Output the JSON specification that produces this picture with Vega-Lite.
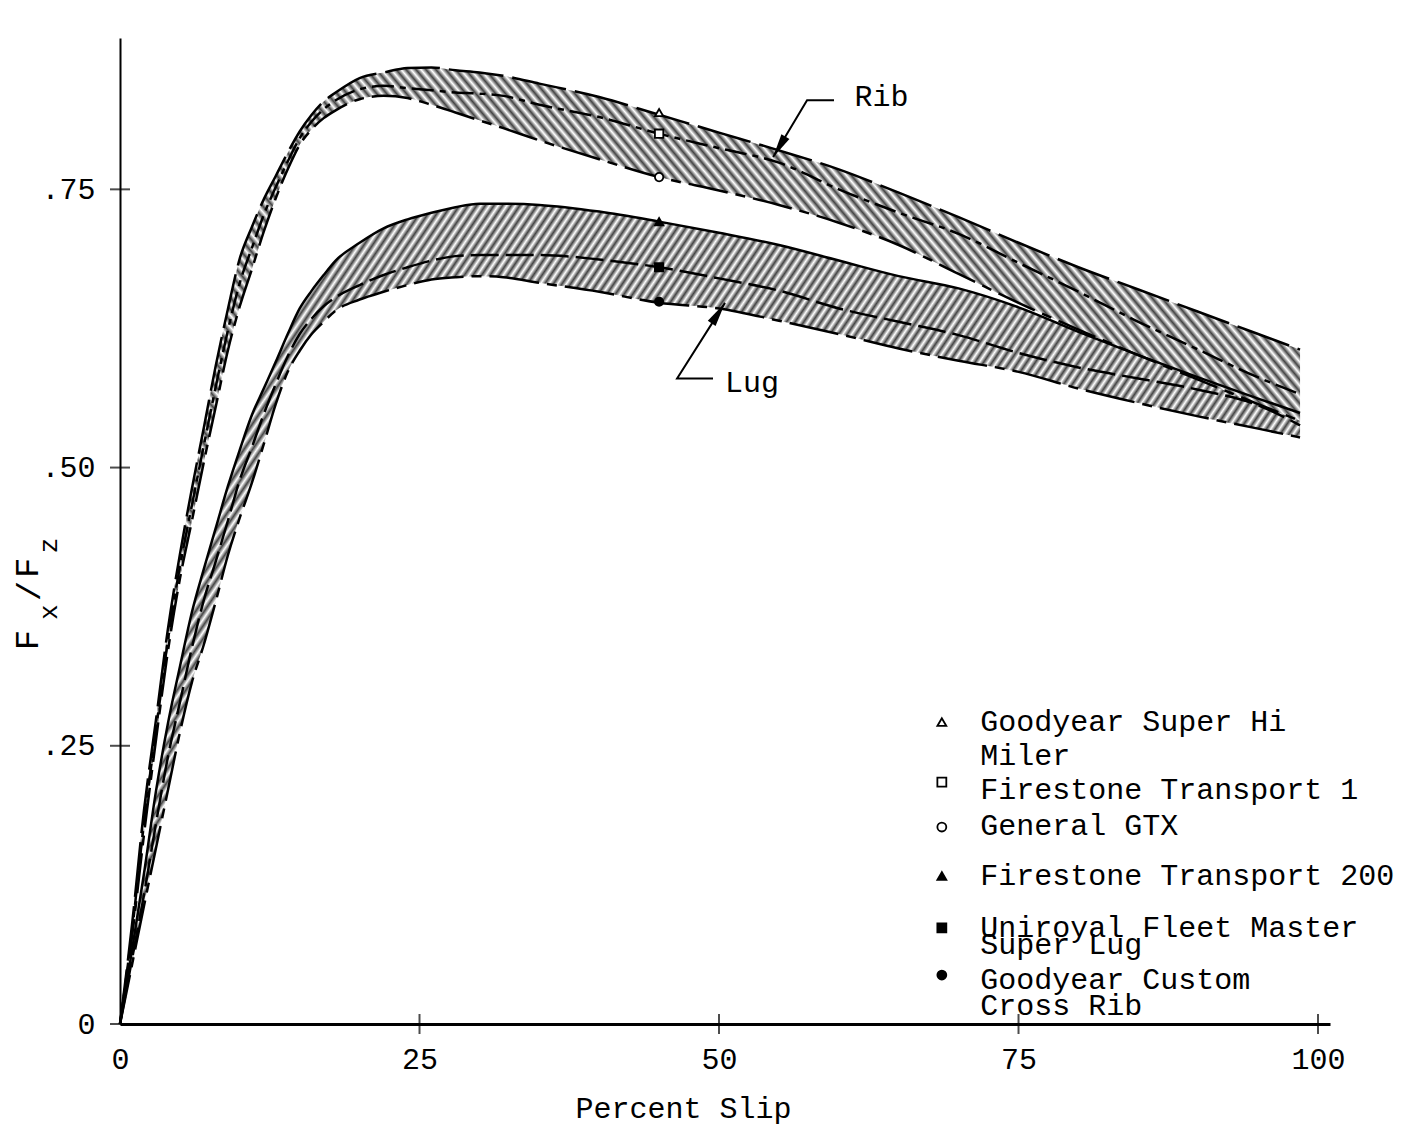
{
"$schema":"https://vega.github.io/schema/vega-lite/v6.json",
"width":1210,"height":986,
"autosize":{"type":"none"},
"padding":{"left":120,"top":38,"right":88,"bottom":104},
"background":"white",
"config":{"view":{"stroke":null},"axis":{"grid":false},"font":"Liberation Mono"},
"datasets":{
"bands":[
{"band":"Rib","x":0,"upper":0,"mid":0,"lower":0},
{"band":"Rib","x":1,"upper":0.089,"mid":0.083,"lower":0.078},
{"band":"Rib","x":2,"upper":0.192,"mid":0.181,"lower":0.170},
{"band":"Rib","x":3,"upper":0.273,"mid":0.264,"lower":0.255},
{"band":"Rib","x":4,"upper":0.355,"mid":0.345,"lower":0.335},
{"band":"Rib","x":5,"upper":0.422,"mid":0.411,"lower":0.400},
{"band":"Rib","x":6,"upper":0.481,"mid":0.466,"lower":0.452},
{"band":"Rib","x":7,"upper":0.536,"mid":0.520,"lower":0.505},
{"band":"Rib","x":8,"upper":0.592,"mid":0.573,"lower":0.555},
{"band":"Rib","x":9,"upper":0.642,"mid":0.623,"lower":0.605},
{"band":"Rib","x":10,"upper":0.688,"mid":0.666,"lower":0.645},
{"band":"Rib","x":11,"upper":0.716,"mid":0.697,"lower":0.678},
{"band":"Rib","x":12,"upper":0.741,"mid":0.727,"lower":0.712},
{"band":"Rib","x":13,"upper":0.762,"mid":0.752,"lower":0.742},
{"band":"Rib","x":14,"upper":0.783,"mid":0.775,"lower":0.768},
{"band":"Rib","x":15,"upper":0.802,"mid":0.796,"lower":0.790},
{"band":"Rib","x":16,"upper":0.817,"mid":0.811,"lower":0.804},
{"band":"Rib","x":17,"upper":0.829,"mid":0.822,"lower":0.814},
{"band":"Rib","x":18,"upper":0.837,"mid":0.830,"lower":0.821},
{"band":"Rib","x":20,"upper":0.850,"mid":0.840,"lower":0.831},
{"band":"Rib","x":22,"upper":0.855,"mid":0.843,"lower":0.834},
{"band":"Rib","x":24,"upper":0.859,"mid":0.841,"lower":0.832},
{"band":"Rib","x":26,"upper":0.8595,"mid":0.839,"lower":0.826},
{"band":"Rib","x":28,"upper":0.857,"mid":0.837,"lower":0.819},
{"band":"Rib","x":30,"upper":0.855,"mid":0.836,"lower":0.812},
{"band":"Rib","x":32,"upper":0.852,"mid":0.834,"lower":0.805},
{"band":"Rib","x":35,"upper":0.845,"mid":0.826,"lower":0.794},
{"band":"Rib","x":40,"upper":0.833,"mid":0.815,"lower":0.777},
{"band":"Rib","x":45,"upper":0.817,"mid":0.800,"lower":0.761},
{"band":"Rib","x":50,"upper":0.801,"mid":0.787,"lower":0.749},
{"band":"Rib","x":55,"upper":0.785,"mid":0.774,"lower":0.736},
{"band":"Rib","x":60,"upper":0.768,"mid":0.750,"lower":0.720},
{"band":"Rib","x":65,"upper":0.747,"mid":0.729,"lower":0.700},
{"band":"Rib","x":70,"upper":0.725,"mid":0.710,"lower":0.674},
{"band":"Rib","x":75,"upper":0.702,"mid":0.684,"lower":0.648},
{"band":"Rib","x":80,"upper":0.680,"mid":0.658,"lower":0.624},
{"band":"Rib","x":85,"upper":0.660,"mid":0.631,"lower":0.601},
{"band":"Rib","x":90,"upper":0.640,"mid":0.606,"lower":0.579},
{"band":"Rib","x":95,"upper":0.620,"mid":0.581,"lower":0.557},
{"band":"Rib","x":98.5,"upper":0.606,"mid":0.566,"lower":0.542},
{"band":"Lug","x":0,"upper":0,"mid":0,"lower":0},
{"band":"Lug","x":1,"upper":0.066,"mid":0.058,"lower":0.053},
{"band":"Lug","x":2,"upper":0.135,"mid":0.116,"lower":0.106},
{"band":"Lug","x":3,"upper":0.209,"mid":0.180,"lower":0.158},
{"band":"Lug","x":4,"upper":0.270,"mid":0.240,"lower":0.210},
{"band":"Lug","x":5,"upper":0.321,"mid":0.289,"lower":0.262},
{"band":"Lug","x":6,"upper":0.370,"mid":0.338,"lower":0.307},
{"band":"Lug","x":7,"upper":0.409,"mid":0.381,"lower":0.341},
{"band":"Lug","x":8,"upper":0.446,"mid":0.416,"lower":0.380},
{"band":"Lug","x":9,"upper":0.483,"mid":0.452,"lower":0.421},
{"band":"Lug","x":10,"upper":0.516,"mid":0.489,"lower":0.455},
{"band":"Lug","x":11,"upper":0.547,"mid":0.518,"lower":0.486},
{"band":"Lug","x":12,"upper":0.571,"mid":0.548,"lower":0.521},
{"band":"Lug","x":13,"upper":0.595,"mid":0.575,"lower":0.557},
{"band":"Lug","x":14,"upper":0.620,"mid":0.600,"lower":0.586},
{"band":"Lug","x":15,"upper":0.643,"mid":0.620,"lower":0.605},
{"band":"Lug","x":16,"upper":0.659,"mid":0.634,"lower":0.620},
{"band":"Lug","x":17,"upper":0.673,"mid":0.645,"lower":0.631},
{"band":"Lug","x":18,"upper":0.686,"mid":0.653,"lower":0.641},
{"band":"Lug","x":20,"upper":0.702,"mid":0.664,"lower":0.651},
{"band":"Lug","x":22,"upper":0.715,"mid":0.673,"lower":0.658},
{"band":"Lug","x":24,"upper":0.723,"mid":0.680,"lower":0.664},
{"band":"Lug","x":26,"upper":0.729,"mid":0.686,"lower":0.669},
{"band":"Lug","x":28,"upper":0.734,"mid":0.690,"lower":0.671},
{"band":"Lug","x":30,"upper":0.737,"mid":0.691,"lower":0.672},
{"band":"Lug","x":32,"upper":0.737,"mid":0.691,"lower":0.671},
{"band":"Lug","x":35,"upper":0.736,"mid":0.691,"lower":0.666},
{"band":"Lug","x":40,"upper":0.730,"mid":0.687,"lower":0.658},
{"band":"Lug","x":45,"upper":0.721,"mid":0.680,"lower":0.648},
{"band":"Lug","x":50,"upper":0.711,"mid":0.670,"lower":0.643},
{"band":"Lug","x":55,"upper":0.700,"mid":0.659,"lower":0.632},
{"band":"Lug","x":60,"upper":0.686,"mid":0.643,"lower":0.620},
{"band":"Lug","x":65,"upper":0.672,"mid":0.631,"lower":0.607},
{"band":"Lug","x":70,"upper":0.661,"mid":0.619,"lower":0.596},
{"band":"Lug","x":75,"upper":0.644,"mid":0.603,"lower":0.586},
{"band":"Lug","x":80,"upper":0.622,"mid":0.590,"lower":0.571},
{"band":"Lug","x":85,"upper":0.601,"mid":0.580,"lower":0.558},
{"band":"Lug","x":90,"upper":0.581,"mid":0.570,"lower":0.546},
{"band":"Lug","x":95,"upper":0.562,"mid":0.556,"lower":0.535},
{"band":"Lug","x":98.5,"upper":0.549,"mid":0.538,"lower":0.527}
],
"tires":[
{"tire":"Goodyear Super Hi Miler","slip":45,"ratio":0.819,"key":0.2713},
{"tire":"Firestone Transport 1","slip":45,"ratio":0.800,"key":0.2174},
{"tire":"General GTX","slip":45,"ratio":0.761,"key":0.1770},
{"tire":"Firestone Transport 200","slip":45,"ratio":0.721,"key":0.1330},
{"tire":"Uniroyal Fleet Master Super Lug","slip":45,"ratio":0.680,"key":0.0863},
{"tire":"Goodyear Custom Cross Rib","slip":45,"ratio":0.649,"key":0.0440}
],
"notes":[
{"text":"Rib","x":61.3,"y":0.833},
{"text":"Lug","x":50.5,"y":0.576},
{"text":"Goodyear Super Hi","x":71.8,"y":0.2713},
{"text":"Miler","x":71.8,"y":0.2408},
{"text":"Firestone Transport 1","x":71.8,"y":0.2102},
{"text":"General GTX","x":71.8,"y":0.1779},
{"text":"Firestone Transport 200","x":71.8,"y":0.1330},
{"text":"Uniroyal Fleet Master","x":71.8,"y":0.0863},
{"text":"Super Lug","x":71.8,"y":0.0710},
{"text":"Goodyear Custom","x":71.8,"y":0.0395},
{"text":"Cross Rib","x":71.8,"y":0.0162}
],
"leaders":[
{"id":"Rib","o":0,"x":59.6,"y":0.830},
{"id":"Rib","o":1,"x":57.35,"y":0.830},
{"id":"Rib","o":2,"x":54.52,"y":0.779},
{"id":"Lug","o":0,"x":49.5,"y":0.580},
{"id":"Lug","o":1,"x":46.5,"y":0.580},
{"id":"Lug","o":2,"x":50.5,"y":0.648}
],
"heads":[
{"id":"Rib","x":55.02,"y":0.788},
{"id":"Lug","x":49.95,"y":0.6388}
],
"ytitleMain":[
{"t":"F","x":-7.7,"y":0.345},
{"t":"/","x":-7.5,"y":0.389},
{"t":"F","x":-7.7,"y":0.410}
],
"ytitleSub":[
{"t":"x","x":-5.95,"y":0.370},
{"t":"z","x":-5.95,"y":0.430}
],
"yticks":[{"v":0},{"v":0.25},{"v":0.5},{"v":0.75}],
"xticks":[{"v":25},{"v":50},{"v":75},{"v":100}]
},
"layer":[
{"data":{"name":"bands"},"transform":[{"filter":"datum.band == 'Lug'"}],
"mark":{"type":"area","interpolate":"monotone","color":{"gradient":"linear","x1":0,"y1":0,"x2":1.2,"y2":0.56,"stops":[
{"offset":0.00,"color":"#fff"},{"offset":0.0025,"color":"#444"},{"offset":0.005,"color":"#fff"},{"offset":0.0075,"color":"#444"},
{"offset":0.01,"color":"#fff"},{"offset":0.0125,"color":"#444"},{"offset":0.015,"color":"#fff"},{"offset":0.0175,"color":"#444"},
{"offset":0.02,"color":"#fff"},{"offset":0.0225,"color":"#444"},{"offset":0.025,"color":"#fff"},{"offset":0.0275,"color":"#444"},
{"offset":0.03,"color":"#fff"},{"offset":0.0325,"color":"#444"},{"offset":0.035,"color":"#fff"},{"offset":0.0375,"color":"#444"},
{"offset":0.04,"color":"#fff"},{"offset":0.0425,"color":"#444"},{"offset":0.045,"color":"#fff"},{"offset":0.0475,"color":"#444"},
{"offset":0.05,"color":"#fff"},{"offset":0.0525,"color":"#444"},{"offset":0.055,"color":"#fff"},{"offset":0.0575,"color":"#444"},
{"offset":0.06,"color":"#fff"},{"offset":0.0625,"color":"#444"},{"offset":0.065,"color":"#fff"},{"offset":0.0675,"color":"#444"},
{"offset":0.07,"color":"#fff"},{"offset":0.0725,"color":"#444"},{"offset":0.075,"color":"#fff"},{"offset":0.0775,"color":"#444"},
{"offset":0.08,"color":"#fff"},{"offset":0.0825,"color":"#444"},{"offset":0.085,"color":"#fff"},{"offset":0.0875,"color":"#444"},
{"offset":0.09,"color":"#fff"},{"offset":0.0925,"color":"#444"},{"offset":0.095,"color":"#fff"},{"offset":0.0975,"color":"#444"},
{"offset":0.10,"color":"#fff"},{"offset":0.1025,"color":"#444"},{"offset":0.105,"color":"#fff"},{"offset":0.1075,"color":"#444"},
{"offset":0.11,"color":"#fff"},{"offset":0.1125,"color":"#444"},{"offset":0.115,"color":"#fff"},{"offset":0.1175,"color":"#444"},
{"offset":0.12,"color":"#fff"},{"offset":0.1225,"color":"#444"},{"offset":0.125,"color":"#fff"},{"offset":0.1275,"color":"#444"},
{"offset":0.13,"color":"#fff"},{"offset":0.1325,"color":"#444"},{"offset":0.135,"color":"#fff"},{"offset":0.1375,"color":"#444"},
{"offset":0.14,"color":"#fff"},{"offset":0.1425,"color":"#444"},{"offset":0.145,"color":"#fff"},{"offset":0.1475,"color":"#444"},
{"offset":0.15,"color":"#fff"},{"offset":0.1525,"color":"#444"},{"offset":0.155,"color":"#fff"},{"offset":0.1575,"color":"#444"},
{"offset":0.16,"color":"#fff"},{"offset":0.1625,"color":"#444"},{"offset":0.165,"color":"#fff"},{"offset":0.1675,"color":"#444"},
{"offset":0.17,"color":"#fff"},{"offset":0.1725,"color":"#444"},{"offset":0.175,"color":"#fff"},{"offset":0.1775,"color":"#444"},
{"offset":0.18,"color":"#fff"},{"offset":0.1825,"color":"#444"},{"offset":0.185,"color":"#fff"},{"offset":0.1875,"color":"#444"},
{"offset":0.19,"color":"#fff"},{"offset":0.1925,"color":"#444"},{"offset":0.195,"color":"#fff"},{"offset":0.1975,"color":"#444"},
{"offset":0.20,"color":"#fff"},{"offset":0.2025,"color":"#444"},{"offset":0.205,"color":"#fff"},{"offset":0.2075,"color":"#444"},
{"offset":0.21,"color":"#fff"},{"offset":0.2125,"color":"#444"},{"offset":0.215,"color":"#fff"},{"offset":0.2175,"color":"#444"},
{"offset":0.22,"color":"#fff"},{"offset":0.2225,"color":"#444"},{"offset":0.225,"color":"#fff"},{"offset":0.2275,"color":"#444"},
{"offset":0.23,"color":"#fff"},{"offset":0.2325,"color":"#444"},{"offset":0.235,"color":"#fff"},{"offset":0.2375,"color":"#444"},
{"offset":0.24,"color":"#fff"},{"offset":0.2425,"color":"#444"},{"offset":0.245,"color":"#fff"},{"offset":0.2475,"color":"#444"},
{"offset":0.25,"color":"#fff"},{"offset":0.2525,"color":"#444"},{"offset":0.255,"color":"#fff"},{"offset":0.2575,"color":"#444"},
{"offset":0.26,"color":"#fff"},{"offset":0.2625,"color":"#444"},{"offset":0.265,"color":"#fff"},{"offset":0.2675,"color":"#444"},
{"offset":0.27,"color":"#fff"},{"offset":0.2725,"color":"#444"},{"offset":0.275,"color":"#fff"},{"offset":0.2775,"color":"#444"},
{"offset":0.28,"color":"#fff"},{"offset":0.2825,"color":"#444"},{"offset":0.285,"color":"#fff"},{"offset":0.2875,"color":"#444"},
{"offset":0.29,"color":"#fff"},{"offset":0.2925,"color":"#444"},{"offset":0.295,"color":"#fff"},{"offset":0.2975,"color":"#444"},
{"offset":0.30,"color":"#fff"},{"offset":0.3025,"color":"#444"},{"offset":0.305,"color":"#fff"},{"offset":0.3075,"color":"#444"},
{"offset":0.31,"color":"#fff"},{"offset":0.3125,"color":"#444"},{"offset":0.315,"color":"#fff"},{"offset":0.3175,"color":"#444"},
{"offset":0.32,"color":"#fff"},{"offset":0.3225,"color":"#444"},{"offset":0.325,"color":"#fff"},{"offset":0.3275,"color":"#444"},
{"offset":0.33,"color":"#fff"},{"offset":0.3325,"color":"#444"},{"offset":0.335,"color":"#fff"},{"offset":0.3375,"color":"#444"},
{"offset":0.34,"color":"#fff"},{"offset":0.3425,"color":"#444"},{"offset":0.345,"color":"#fff"},{"offset":0.3475,"color":"#444"},
{"offset":0.35,"color":"#fff"},{"offset":0.3525,"color":"#444"},{"offset":0.355,"color":"#fff"},{"offset":0.3575,"color":"#444"},
{"offset":0.36,"color":"#fff"},{"offset":0.3625,"color":"#444"},{"offset":0.365,"color":"#fff"},{"offset":0.3675,"color":"#444"},
{"offset":0.37,"color":"#fff"},{"offset":0.3725,"color":"#444"},{"offset":0.375,"color":"#fff"},{"offset":0.3775,"color":"#444"},
{"offset":0.38,"color":"#fff"},{"offset":0.3825,"color":"#444"},{"offset":0.385,"color":"#fff"},{"offset":0.3875,"color":"#444"},
{"offset":0.39,"color":"#fff"},{"offset":0.3925,"color":"#444"},{"offset":0.395,"color":"#fff"},{"offset":0.3975,"color":"#444"},
{"offset":0.40,"color":"#fff"},{"offset":0.4025,"color":"#444"},{"offset":0.405,"color":"#fff"},{"offset":0.4075,"color":"#444"},
{"offset":0.41,"color":"#fff"},{"offset":0.4125,"color":"#444"},{"offset":0.415,"color":"#fff"},{"offset":0.4175,"color":"#444"},
{"offset":0.42,"color":"#fff"},{"offset":0.4225,"color":"#444"},{"offset":0.425,"color":"#fff"},{"offset":0.4275,"color":"#444"},
{"offset":0.43,"color":"#fff"},{"offset":0.4325,"color":"#444"},{"offset":0.435,"color":"#fff"},{"offset":0.4375,"color":"#444"},
{"offset":0.44,"color":"#fff"},{"offset":0.4425,"color":"#444"},{"offset":0.445,"color":"#fff"},{"offset":0.4475,"color":"#444"},
{"offset":0.45,"color":"#fff"},{"offset":0.4525,"color":"#444"},{"offset":0.455,"color":"#fff"},{"offset":0.4575,"color":"#444"},
{"offset":0.46,"color":"#fff"},{"offset":0.4625,"color":"#444"},{"offset":0.465,"color":"#fff"},{"offset":0.4675,"color":"#444"},
{"offset":0.47,"color":"#fff"},{"offset":0.4725,"color":"#444"},{"offset":0.475,"color":"#fff"},{"offset":0.4775,"color":"#444"},
{"offset":0.48,"color":"#fff"},{"offset":0.4825,"color":"#444"},{"offset":0.485,"color":"#fff"},{"offset":0.4875,"color":"#444"},
{"offset":0.49,"color":"#fff"},{"offset":0.4925,"color":"#444"},{"offset":0.495,"color":"#fff"},{"offset":0.4975,"color":"#444"},
{"offset":0.50,"color":"#fff"},{"offset":0.5025,"color":"#444"},{"offset":0.505,"color":"#fff"},{"offset":0.5075,"color":"#444"},
{"offset":0.51,"color":"#fff"},{"offset":0.5125,"color":"#444"},{"offset":0.515,"color":"#fff"},{"offset":0.5175,"color":"#444"},
{"offset":0.52,"color":"#fff"},{"offset":0.5225,"color":"#444"},{"offset":0.525,"color":"#fff"},{"offset":0.5275,"color":"#444"},
{"offset":0.53,"color":"#fff"},{"offset":0.5325,"color":"#444"},{"offset":0.535,"color":"#fff"},{"offset":0.5375,"color":"#444"},
{"offset":0.54,"color":"#fff"},{"offset":0.5425,"color":"#444"},{"offset":0.545,"color":"#fff"},{"offset":0.5475,"color":"#444"},
{"offset":0.55,"color":"#fff"},{"offset":0.5525,"color":"#444"},{"offset":0.555,"color":"#fff"},{"offset":0.5575,"color":"#444"},
{"offset":0.56,"color":"#fff"},{"offset":0.5625,"color":"#444"},{"offset":0.565,"color":"#fff"},{"offset":0.5675,"color":"#444"},
{"offset":0.57,"color":"#fff"},{"offset":0.5725,"color":"#444"},{"offset":0.575,"color":"#fff"},{"offset":0.5775,"color":"#444"},
{"offset":0.58,"color":"#fff"},{"offset":0.5825,"color":"#444"},{"offset":0.585,"color":"#fff"},{"offset":0.5875,"color":"#444"},
{"offset":0.59,"color":"#fff"},{"offset":0.5925,"color":"#444"},{"offset":0.595,"color":"#fff"},{"offset":0.5975,"color":"#444"},
{"offset":0.60,"color":"#fff"},{"offset":0.6025,"color":"#444"},{"offset":0.605,"color":"#fff"},{"offset":0.6075,"color":"#444"},
{"offset":0.61,"color":"#fff"},{"offset":0.6125,"color":"#444"},{"offset":0.615,"color":"#fff"},{"offset":0.6175,"color":"#444"},
{"offset":0.62,"color":"#fff"},{"offset":0.6225,"color":"#444"},{"offset":0.625,"color":"#fff"},{"offset":0.6275,"color":"#444"},
{"offset":0.63,"color":"#fff"},{"offset":0.6325,"color":"#444"},{"offset":0.635,"color":"#fff"},{"offset":0.6375,"color":"#444"},
{"offset":0.64,"color":"#fff"},{"offset":0.6425,"color":"#444"},{"offset":0.645,"color":"#fff"},{"offset":0.6475,"color":"#444"},
{"offset":0.65,"color":"#fff"},{"offset":0.6525,"color":"#444"},{"offset":0.655,"color":"#fff"},{"offset":0.6575,"color":"#444"},
{"offset":0.66,"color":"#fff"},{"offset":0.6625,"color":"#444"},{"offset":0.665,"color":"#fff"},{"offset":0.6675,"color":"#444"},
{"offset":0.67,"color":"#fff"},{"offset":0.6725,"color":"#444"},{"offset":0.675,"color":"#fff"},{"offset":0.6775,"color":"#444"},
{"offset":0.68,"color":"#fff"},{"offset":0.6825,"color":"#444"},{"offset":0.685,"color":"#fff"},{"offset":0.6875,"color":"#444"},
{"offset":0.69,"color":"#fff"},{"offset":0.6925,"color":"#444"},{"offset":0.695,"color":"#fff"},{"offset":0.6975,"color":"#444"},
{"offset":0.70,"color":"#fff"},{"offset":0.7025,"color":"#444"},{"offset":0.705,"color":"#fff"},{"offset":0.7075,"color":"#444"},
{"offset":0.71,"color":"#fff"},{"offset":0.7125,"color":"#444"},{"offset":0.715,"color":"#fff"},{"offset":0.7175,"color":"#444"},
{"offset":0.72,"color":"#fff"},{"offset":0.7225,"color":"#444"},{"offset":0.725,"color":"#fff"},{"offset":0.7275,"color":"#444"},
{"offset":0.73,"color":"#fff"},{"offset":0.7325,"color":"#444"},{"offset":0.735,"color":"#fff"},{"offset":0.7375,"color":"#444"},
{"offset":0.74,"color":"#fff"},{"offset":0.7425,"color":"#444"},{"offset":0.745,"color":"#fff"},{"offset":0.7475,"color":"#444"},
{"offset":0.75,"color":"#fff"},{"offset":0.7525,"color":"#444"},{"offset":0.755,"color":"#fff"},{"offset":0.7575,"color":"#444"},
{"offset":0.76,"color":"#fff"},{"offset":0.7625,"color":"#444"},{"offset":0.765,"color":"#fff"},{"offset":0.7675,"color":"#444"},
{"offset":0.77,"color":"#fff"},{"offset":0.7725,"color":"#444"},{"offset":0.775,"color":"#fff"},{"offset":0.7775,"color":"#444"},
{"offset":0.78,"color":"#fff"},{"offset":0.7825,"color":"#444"},{"offset":0.785,"color":"#fff"},{"offset":0.7875,"color":"#444"},
{"offset":0.79,"color":"#fff"},{"offset":0.7925,"color":"#444"},{"offset":0.795,"color":"#fff"},{"offset":0.7975,"color":"#444"},
{"offset":0.80,"color":"#fff"},{"offset":0.8025,"color":"#444"},{"offset":0.805,"color":"#fff"},{"offset":0.8075,"color":"#444"},
{"offset":0.81,"color":"#fff"},{"offset":0.8125,"color":"#444"},{"offset":0.815,"color":"#fff"},{"offset":0.8175,"color":"#444"},
{"offset":0.82,"color":"#fff"},{"offset":0.8225,"color":"#444"},{"offset":0.825,"color":"#fff"},{"offset":0.8275,"color":"#444"},
{"offset":0.83,"color":"#fff"},{"offset":0.8325,"color":"#444"},{"offset":0.835,"color":"#fff"},{"offset":0.8375,"color":"#444"},
{"offset":0.84,"color":"#fff"},{"offset":0.8425,"color":"#444"},{"offset":0.845,"color":"#fff"},{"offset":0.8475,"color":"#444"},
{"offset":0.85,"color":"#fff"},{"offset":0.8525,"color":"#444"},{"offset":0.855,"color":"#fff"},{"offset":0.8575,"color":"#444"},
{"offset":0.86,"color":"#fff"},{"offset":0.8625,"color":"#444"},{"offset":0.865,"color":"#fff"},{"offset":0.8675,"color":"#444"},
{"offset":0.87,"color":"#fff"},{"offset":0.8725,"color":"#444"},{"offset":0.875,"color":"#fff"},{"offset":0.8775,"color":"#444"},
{"offset":0.88,"color":"#fff"},{"offset":0.8825,"color":"#444"},{"offset":0.885,"color":"#fff"},{"offset":0.8875,"color":"#444"},
{"offset":0.89,"color":"#fff"},{"offset":0.8925,"color":"#444"},{"offset":0.895,"color":"#fff"},{"offset":0.8975,"color":"#444"},
{"offset":0.90,"color":"#fff"},{"offset":0.9025,"color":"#444"},{"offset":0.905,"color":"#fff"},{"offset":0.9075,"color":"#444"},
{"offset":0.91,"color":"#fff"},{"offset":0.9125,"color":"#444"},{"offset":0.915,"color":"#fff"},{"offset":0.9175,"color":"#444"},
{"offset":0.92,"color":"#fff"},{"offset":0.9225,"color":"#444"},{"offset":0.925,"color":"#fff"},{"offset":0.9275,"color":"#444"},
{"offset":0.93,"color":"#fff"},{"offset":0.9325,"color":"#444"},{"offset":0.935,"color":"#fff"},{"offset":0.9375,"color":"#444"},
{"offset":0.94,"color":"#fff"},{"offset":0.9425,"color":"#444"},{"offset":0.945,"color":"#fff"},{"offset":0.9475,"color":"#444"},
{"offset":0.95,"color":"#fff"},{"offset":0.9525,"color":"#444"},{"offset":0.955,"color":"#fff"},{"offset":0.9575,"color":"#444"},
{"offset":0.96,"color":"#fff"},{"offset":0.9625,"color":"#444"},{"offset":0.965,"color":"#fff"},{"offset":0.9675,"color":"#444"},
{"offset":0.97,"color":"#fff"},{"offset":0.9725,"color":"#444"},{"offset":0.975,"color":"#fff"},{"offset":0.9775,"color":"#444"},
{"offset":0.98,"color":"#fff"},{"offset":0.9825,"color":"#444"},{"offset":0.985,"color":"#fff"},{"offset":0.9875,"color":"#444"},
{"offset":0.99,"color":"#fff"},{"offset":0.9925,"color":"#444"},{"offset":0.995,"color":"#fff"},{"offset":0.9975,"color":"#444"},
{"offset":1,"color":"#fff"}]}},
"encoding":{
"x":{"field":"x","type":"quantitative","scale":{"domain":[0,101],"nice":false},"axis":{"values":[0,25,50,75,100],"ticks":false,"grid":false,"domainColor":"black","domainWidth":3,"labelFont":"Liberation Mono","labelFontSize":30,"labelColor":"black","labelPadding":20,"labelFlush":false,"labelOverlap":false,"title":"Percent Slip","titleFont":"Liberation Mono","titleFontSize":30,"titleFontWeight":"normal","titleColor":"black","titleX":563,"titleY":84,"titleAlign":"center","titleBaseline":"middle","titleAnchor":null}},
"y":{"field":"upper","type":"quantitative","scale":{"domain":[0,0.886],"nice":false,"zero":false},"axis":{"values":[0,0.25,0.5,0.75],"ticks":false,"grid":false,"domainColor":"black","domainWidth":2,"labelExpr":"datum.value == 0 ? '0' : replace(format(datum.value, '.2f'), '0.', '.')","labelFont":"Liberation Mono","labelFontSize":30,"labelColor":"black","labelPadding":25,"title":null}},
"y2":{"field":"lower"}}},
{"data":{"name":"bands"},"transform":[{"filter":"datum.band == 'Rib'"}],
"mark":{"type":"area","interpolate":"monotone","color":{"gradient":"linear","x1":0,"y1":1,"x2":1.15,"y2":0.22,"stops":[
{"offset":0.00,"color":"#fff"},{"offset":0.0025,"color":"#444"},{"offset":0.005,"color":"#fff"},{"offset":0.0075,"color":"#444"},
{"offset":0.01,"color":"#fff"},{"offset":0.0125,"color":"#444"},{"offset":0.015,"color":"#fff"},{"offset":0.0175,"color":"#444"},
{"offset":0.02,"color":"#fff"},{"offset":0.0225,"color":"#444"},{"offset":0.025,"color":"#fff"},{"offset":0.0275,"color":"#444"},
{"offset":0.03,"color":"#fff"},{"offset":0.0325,"color":"#444"},{"offset":0.035,"color":"#fff"},{"offset":0.0375,"color":"#444"},
{"offset":0.04,"color":"#fff"},{"offset":0.0425,"color":"#444"},{"offset":0.045,"color":"#fff"},{"offset":0.0475,"color":"#444"},
{"offset":0.05,"color":"#fff"},{"offset":0.0525,"color":"#444"},{"offset":0.055,"color":"#fff"},{"offset":0.0575,"color":"#444"},
{"offset":0.06,"color":"#fff"},{"offset":0.0625,"color":"#444"},{"offset":0.065,"color":"#fff"},{"offset":0.0675,"color":"#444"},
{"offset":0.07,"color":"#fff"},{"offset":0.0725,"color":"#444"},{"offset":0.075,"color":"#fff"},{"offset":0.0775,"color":"#444"},
{"offset":0.08,"color":"#fff"},{"offset":0.0825,"color":"#444"},{"offset":0.085,"color":"#fff"},{"offset":0.0875,"color":"#444"},
{"offset":0.09,"color":"#fff"},{"offset":0.0925,"color":"#444"},{"offset":0.095,"color":"#fff"},{"offset":0.0975,"color":"#444"},
{"offset":0.10,"color":"#fff"},{"offset":0.1025,"color":"#444"},{"offset":0.105,"color":"#fff"},{"offset":0.1075,"color":"#444"},
{"offset":0.11,"color":"#fff"},{"offset":0.1125,"color":"#444"},{"offset":0.115,"color":"#fff"},{"offset":0.1175,"color":"#444"},
{"offset":0.12,"color":"#fff"},{"offset":0.1225,"color":"#444"},{"offset":0.125,"color":"#fff"},{"offset":0.1275,"color":"#444"},
{"offset":0.13,"color":"#fff"},{"offset":0.1325,"color":"#444"},{"offset":0.135,"color":"#fff"},{"offset":0.1375,"color":"#444"},
{"offset":0.14,"color":"#fff"},{"offset":0.1425,"color":"#444"},{"offset":0.145,"color":"#fff"},{"offset":0.1475,"color":"#444"},
{"offset":0.15,"color":"#fff"},{"offset":0.1525,"color":"#444"},{"offset":0.155,"color":"#fff"},{"offset":0.1575,"color":"#444"},
{"offset":0.16,"color":"#fff"},{"offset":0.1625,"color":"#444"},{"offset":0.165,"color":"#fff"},{"offset":0.1675,"color":"#444"},
{"offset":0.17,"color":"#fff"},{"offset":0.1725,"color":"#444"},{"offset":0.175,"color":"#fff"},{"offset":0.1775,"color":"#444"},
{"offset":0.18,"color":"#fff"},{"offset":0.1825,"color":"#444"},{"offset":0.185,"color":"#fff"},{"offset":0.1875,"color":"#444"},
{"offset":0.19,"color":"#fff"},{"offset":0.1925,"color":"#444"},{"offset":0.195,"color":"#fff"},{"offset":0.1975,"color":"#444"},
{"offset":0.20,"color":"#fff"},{"offset":0.2025,"color":"#444"},{"offset":0.205,"color":"#fff"},{"offset":0.2075,"color":"#444"},
{"offset":0.21,"color":"#fff"},{"offset":0.2125,"color":"#444"},{"offset":0.215,"color":"#fff"},{"offset":0.2175,"color":"#444"},
{"offset":0.22,"color":"#fff"},{"offset":0.2225,"color":"#444"},{"offset":0.225,"color":"#fff"},{"offset":0.2275,"color":"#444"},
{"offset":0.23,"color":"#fff"},{"offset":0.2325,"color":"#444"},{"offset":0.235,"color":"#fff"},{"offset":0.2375,"color":"#444"},
{"offset":0.24,"color":"#fff"},{"offset":0.2425,"color":"#444"},{"offset":0.245,"color":"#fff"},{"offset":0.2475,"color":"#444"},
{"offset":0.25,"color":"#fff"},{"offset":0.2525,"color":"#444"},{"offset":0.255,"color":"#fff"},{"offset":0.2575,"color":"#444"},
{"offset":0.26,"color":"#fff"},{"offset":0.2625,"color":"#444"},{"offset":0.265,"color":"#fff"},{"offset":0.2675,"color":"#444"},
{"offset":0.27,"color":"#fff"},{"offset":0.2725,"color":"#444"},{"offset":0.275,"color":"#fff"},{"offset":0.2775,"color":"#444"},
{"offset":0.28,"color":"#fff"},{"offset":0.2825,"color":"#444"},{"offset":0.285,"color":"#fff"},{"offset":0.2875,"color":"#444"},
{"offset":0.29,"color":"#fff"},{"offset":0.2925,"color":"#444"},{"offset":0.295,"color":"#fff"},{"offset":0.2975,"color":"#444"},
{"offset":0.30,"color":"#fff"},{"offset":0.3025,"color":"#444"},{"offset":0.305,"color":"#fff"},{"offset":0.3075,"color":"#444"},
{"offset":0.31,"color":"#fff"},{"offset":0.3125,"color":"#444"},{"offset":0.315,"color":"#fff"},{"offset":0.3175,"color":"#444"},
{"offset":0.32,"color":"#fff"},{"offset":0.3225,"color":"#444"},{"offset":0.325,"color":"#fff"},{"offset":0.3275,"color":"#444"},
{"offset":0.33,"color":"#fff"},{"offset":0.3325,"color":"#444"},{"offset":0.335,"color":"#fff"},{"offset":0.3375,"color":"#444"},
{"offset":0.34,"color":"#fff"},{"offset":0.3425,"color":"#444"},{"offset":0.345,"color":"#fff"},{"offset":0.3475,"color":"#444"},
{"offset":0.35,"color":"#fff"},{"offset":0.3525,"color":"#444"},{"offset":0.355,"color":"#fff"},{"offset":0.3575,"color":"#444"},
{"offset":0.36,"color":"#fff"},{"offset":0.3625,"color":"#444"},{"offset":0.365,"color":"#fff"},{"offset":0.3675,"color":"#444"},
{"offset":0.37,"color":"#fff"},{"offset":0.3725,"color":"#444"},{"offset":0.375,"color":"#fff"},{"offset":0.3775,"color":"#444"},
{"offset":0.38,"color":"#fff"},{"offset":0.3825,"color":"#444"},{"offset":0.385,"color":"#fff"},{"offset":0.3875,"color":"#444"},
{"offset":0.39,"color":"#fff"},{"offset":0.3925,"color":"#444"},{"offset":0.395,"color":"#fff"},{"offset":0.3975,"color":"#444"},
{"offset":0.40,"color":"#fff"},{"offset":0.4025,"color":"#444"},{"offset":0.405,"color":"#fff"},{"offset":0.4075,"color":"#444"},
{"offset":0.41,"color":"#fff"},{"offset":0.4125,"color":"#444"},{"offset":0.415,"color":"#fff"},{"offset":0.4175,"color":"#444"},
{"offset":0.42,"color":"#fff"},{"offset":0.4225,"color":"#444"},{"offset":0.425,"color":"#fff"},{"offset":0.4275,"color":"#444"},
{"offset":0.43,"color":"#fff"},{"offset":0.4325,"color":"#444"},{"offset":0.435,"color":"#fff"},{"offset":0.4375,"color":"#444"},
{"offset":0.44,"color":"#fff"},{"offset":0.4425,"color":"#444"},{"offset":0.445,"color":"#fff"},{"offset":0.4475,"color":"#444"},
{"offset":0.45,"color":"#fff"},{"offset":0.4525,"color":"#444"},{"offset":0.455,"color":"#fff"},{"offset":0.4575,"color":"#444"},
{"offset":0.46,"color":"#fff"},{"offset":0.4625,"color":"#444"},{"offset":0.465,"color":"#fff"},{"offset":0.4675,"color":"#444"},
{"offset":0.47,"color":"#fff"},{"offset":0.4725,"color":"#444"},{"offset":0.475,"color":"#fff"},{"offset":0.4775,"color":"#444"},
{"offset":0.48,"color":"#fff"},{"offset":0.4825,"color":"#444"},{"offset":0.485,"color":"#fff"},{"offset":0.4875,"color":"#444"},
{"offset":0.49,"color":"#fff"},{"offset":0.4925,"color":"#444"},{"offset":0.495,"color":"#fff"},{"offset":0.4975,"color":"#444"},
{"offset":0.50,"color":"#fff"},{"offset":0.5025,"color":"#444"},{"offset":0.505,"color":"#fff"},{"offset":0.5075,"color":"#444"},
{"offset":0.51,"color":"#fff"},{"offset":0.5125,"color":"#444"},{"offset":0.515,"color":"#fff"},{"offset":0.5175,"color":"#444"},
{"offset":0.52,"color":"#fff"},{"offset":0.5225,"color":"#444"},{"offset":0.525,"color":"#fff"},{"offset":0.5275,"color":"#444"},
{"offset":0.53,"color":"#fff"},{"offset":0.5325,"color":"#444"},{"offset":0.535,"color":"#fff"},{"offset":0.5375,"color":"#444"},
{"offset":0.54,"color":"#fff"},{"offset":0.5425,"color":"#444"},{"offset":0.545,"color":"#fff"},{"offset":0.5475,"color":"#444"},
{"offset":0.55,"color":"#fff"},{"offset":0.5525,"color":"#444"},{"offset":0.555,"color":"#fff"},{"offset":0.5575,"color":"#444"},
{"offset":0.56,"color":"#fff"},{"offset":0.5625,"color":"#444"},{"offset":0.565,"color":"#fff"},{"offset":0.5675,"color":"#444"},
{"offset":0.57,"color":"#fff"},{"offset":0.5725,"color":"#444"},{"offset":0.575,"color":"#fff"},{"offset":0.5775,"color":"#444"},
{"offset":0.58,"color":"#fff"},{"offset":0.5825,"color":"#444"},{"offset":0.585,"color":"#fff"},{"offset":0.5875,"color":"#444"},
{"offset":0.59,"color":"#fff"},{"offset":0.5925,"color":"#444"},{"offset":0.595,"color":"#fff"},{"offset":0.5975,"color":"#444"},
{"offset":0.60,"color":"#fff"},{"offset":0.6025,"color":"#444"},{"offset":0.605,"color":"#fff"},{"offset":0.6075,"color":"#444"},
{"offset":0.61,"color":"#fff"},{"offset":0.6125,"color":"#444"},{"offset":0.615,"color":"#fff"},{"offset":0.6175,"color":"#444"},
{"offset":0.62,"color":"#fff"},{"offset":0.6225,"color":"#444"},{"offset":0.625,"color":"#fff"},{"offset":0.6275,"color":"#444"},
{"offset":0.63,"color":"#fff"},{"offset":0.6325,"color":"#444"},{"offset":0.635,"color":"#fff"},{"offset":0.6375,"color":"#444"},
{"offset":0.64,"color":"#fff"},{"offset":0.6425,"color":"#444"},{"offset":0.645,"color":"#fff"},{"offset":0.6475,"color":"#444"},
{"offset":0.65,"color":"#fff"},{"offset":0.6525,"color":"#444"},{"offset":0.655,"color":"#fff"},{"offset":0.6575,"color":"#444"},
{"offset":0.66,"color":"#fff"},{"offset":0.6625,"color":"#444"},{"offset":0.665,"color":"#fff"},{"offset":0.6675,"color":"#444"},
{"offset":0.67,"color":"#fff"},{"offset":0.6725,"color":"#444"},{"offset":0.675,"color":"#fff"},{"offset":0.6775,"color":"#444"},
{"offset":0.68,"color":"#fff"},{"offset":0.6825,"color":"#444"},{"offset":0.685,"color":"#fff"},{"offset":0.6875,"color":"#444"},
{"offset":0.69,"color":"#fff"},{"offset":0.6925,"color":"#444"},{"offset":0.695,"color":"#fff"},{"offset":0.6975,"color":"#444"},
{"offset":0.70,"color":"#fff"},{"offset":0.7025,"color":"#444"},{"offset":0.705,"color":"#fff"},{"offset":0.7075,"color":"#444"},
{"offset":0.71,"color":"#fff"},{"offset":0.7125,"color":"#444"},{"offset":0.715,"color":"#fff"},{"offset":0.7175,"color":"#444"},
{"offset":0.72,"color":"#fff"},{"offset":0.7225,"color":"#444"},{"offset":0.725,"color":"#fff"},{"offset":0.7275,"color":"#444"},
{"offset":0.73,"color":"#fff"},{"offset":0.7325,"color":"#444"},{"offset":0.735,"color":"#fff"},{"offset":0.7375,"color":"#444"},
{"offset":0.74,"color":"#fff"},{"offset":0.7425,"color":"#444"},{"offset":0.745,"color":"#fff"},{"offset":0.7475,"color":"#444"},
{"offset":0.75,"color":"#fff"},{"offset":0.7525,"color":"#444"},{"offset":0.755,"color":"#fff"},{"offset":0.7575,"color":"#444"},
{"offset":0.76,"color":"#fff"},{"offset":0.7625,"color":"#444"},{"offset":0.765,"color":"#fff"},{"offset":0.7675,"color":"#444"},
{"offset":0.77,"color":"#fff"},{"offset":0.7725,"color":"#444"},{"offset":0.775,"color":"#fff"},{"offset":0.7775,"color":"#444"},
{"offset":0.78,"color":"#fff"},{"offset":0.7825,"color":"#444"},{"offset":0.785,"color":"#fff"},{"offset":0.7875,"color":"#444"},
{"offset":0.79,"color":"#fff"},{"offset":0.7925,"color":"#444"},{"offset":0.795,"color":"#fff"},{"offset":0.7975,"color":"#444"},
{"offset":0.80,"color":"#fff"},{"offset":0.8025,"color":"#444"},{"offset":0.805,"color":"#fff"},{"offset":0.8075,"color":"#444"},
{"offset":0.81,"color":"#fff"},{"offset":0.8125,"color":"#444"},{"offset":0.815,"color":"#fff"},{"offset":0.8175,"color":"#444"},
{"offset":0.82,"color":"#fff"},{"offset":0.8225,"color":"#444"},{"offset":0.825,"color":"#fff"},{"offset":0.8275,"color":"#444"},
{"offset":0.83,"color":"#fff"},{"offset":0.8325,"color":"#444"},{"offset":0.835,"color":"#fff"},{"offset":0.8375,"color":"#444"},
{"offset":0.84,"color":"#fff"},{"offset":0.8425,"color":"#444"},{"offset":0.845,"color":"#fff"},{"offset":0.8475,"color":"#444"},
{"offset":0.85,"color":"#fff"},{"offset":0.8525,"color":"#444"},{"offset":0.855,"color":"#fff"},{"offset":0.8575,"color":"#444"},
{"offset":0.86,"color":"#fff"},{"offset":0.8625,"color":"#444"},{"offset":0.865,"color":"#fff"},{"offset":0.8675,"color":"#444"},
{"offset":0.87,"color":"#fff"},{"offset":0.8725,"color":"#444"},{"offset":0.875,"color":"#fff"},{"offset":0.8775,"color":"#444"},
{"offset":0.88,"color":"#fff"},{"offset":0.8825,"color":"#444"},{"offset":0.885,"color":"#fff"},{"offset":0.8875,"color":"#444"},
{"offset":0.89,"color":"#fff"},{"offset":0.8925,"color":"#444"},{"offset":0.895,"color":"#fff"},{"offset":0.8975,"color":"#444"},
{"offset":0.90,"color":"#fff"},{"offset":0.9025,"color":"#444"},{"offset":0.905,"color":"#fff"},{"offset":0.9075,"color":"#444"},
{"offset":0.91,"color":"#fff"},{"offset":0.9125,"color":"#444"},{"offset":0.915,"color":"#fff"},{"offset":0.9175,"color":"#444"},
{"offset":0.92,"color":"#fff"},{"offset":0.9225,"color":"#444"},{"offset":0.925,"color":"#fff"},{"offset":0.9275,"color":"#444"},
{"offset":0.93,"color":"#fff"},{"offset":0.9325,"color":"#444"},{"offset":0.935,"color":"#fff"},{"offset":0.9375,"color":"#444"},
{"offset":0.94,"color":"#fff"},{"offset":0.9425,"color":"#444"},{"offset":0.945,"color":"#fff"},{"offset":0.9475,"color":"#444"},
{"offset":0.95,"color":"#fff"},{"offset":0.9525,"color":"#444"},{"offset":0.955,"color":"#fff"},{"offset":0.9575,"color":"#444"},
{"offset":0.96,"color":"#fff"},{"offset":0.9625,"color":"#444"},{"offset":0.965,"color":"#fff"},{"offset":0.9675,"color":"#444"},
{"offset":0.97,"color":"#fff"},{"offset":0.9725,"color":"#444"},{"offset":0.975,"color":"#fff"},{"offset":0.9775,"color":"#444"},
{"offset":0.98,"color":"#fff"},{"offset":0.9825,"color":"#444"},{"offset":0.985,"color":"#fff"},{"offset":0.9875,"color":"#444"},
{"offset":0.99,"color":"#fff"},{"offset":0.9925,"color":"#444"},{"offset":0.995,"color":"#fff"},{"offset":0.9975,"color":"#444"},
{"offset":1,"color":"#fff"}]}},
"encoding":{
"x":{"field":"x","type":"quantitative","scale":{"domain":[0,101],"nice":false}},
"y":{"field":"upper","type":"quantitative","scale":{"domain":[0,0.886],"nice":false,"zero":false}},
"y2":{"field":"lower"}}},
{"data":{"name":"bands"},"transform":[{"filter":"datum.band == 'Rib'"}],
"mark":{"type":"line","interpolate":"monotone","color":"black","strokeWidth":2.5,"strokeDash":[55,9]},
"encoding":{"x":{"field":"x","type":"quantitative","scale":{"domain":[0,101],"nice":false}},"y":{"field":"upper","type":"quantitative","scale":{"domain":[0,0.886],"nice":false}}}},
{"data":{"name":"bands"},"transform":[{"filter":"datum.band == 'Rib'"}],
"mark":{"type":"line","interpolate":"monotone","color":"black","strokeWidth":2.5,"strokeDash":[22,6,6,6]},
"encoding":{"x":{"field":"x","type":"quantitative","scale":{"domain":[0,101],"nice":false}},"y":{"field":"mid","type":"quantitative","scale":{"domain":[0,0.886],"nice":false}}}},
{"data":{"name":"bands"},"transform":[{"filter":"datum.band == 'Rib'"}],
"mark":{"type":"line","interpolate":"monotone","color":"black","strokeWidth":2.5,"strokeDash":[40,8,10,8]},
"encoding":{"x":{"field":"x","type":"quantitative","scale":{"domain":[0,101],"nice":false}},"y":{"field":"lower","type":"quantitative","scale":{"domain":[0,0.886],"nice":false}}}},
{"data":{"name":"bands"},"transform":[{"filter":"datum.band == 'Lug'"}],
"mark":{"type":"line","interpolate":"monotone","color":"black","strokeWidth":2.5},
"encoding":{"x":{"field":"x","type":"quantitative","scale":{"domain":[0,101],"nice":false}},"y":{"field":"upper","type":"quantitative","scale":{"domain":[0,0.886],"nice":false}}}},
{"data":{"name":"bands"},"transform":[{"filter":"datum.band == 'Lug'"}],
"mark":{"type":"line","interpolate":"monotone","color":"black","strokeWidth":2.5,"strokeDash":[28,7]},
"encoding":{"x":{"field":"x","type":"quantitative","scale":{"domain":[0,101],"nice":false}},"y":{"field":"mid","type":"quantitative","scale":{"domain":[0,0.886],"nice":false}}}},
{"data":{"name":"bands"},"transform":[{"filter":"datum.band == 'Lug'"}],
"mark":{"type":"line","interpolate":"monotone","color":"black","strokeWidth":2.5,"strokeDash":[50,8,10,8]},
"encoding":{"x":{"field":"x","type":"quantitative","scale":{"domain":[0,101],"nice":false}},"y":{"field":"lower","type":"quantitative","scale":{"domain":[0,0.886],"nice":false}}}},
{"data":{"name":"yticks"},
"mark":{"type":"tick","orient":"horizontal","size":20,"thickness":2,"color":"black"},
"encoding":{"x":{"datum":0,"type":"quantitative","scale":{"domain":[0,101],"nice":false}},"y":{"field":"v","type":"quantitative","scale":{"domain":[0,0.886],"nice":false}}}},
{"data":{"name":"xticks"},
"mark":{"type":"tick","orient":"vertical","size":20,"thickness":2,"color":"black"},
"encoding":{"x":{"field":"v","type":"quantitative","scale":{"domain":[0,101],"nice":false}},"y":{"datum":0,"type":"quantitative","scale":{"domain":[0,0.886],"nice":false}}}},
{"data":{"name":"leaders"},
"mark":{"type":"line","color":"black","strokeWidth":2},
"encoding":{"x":{"field":"x","type":"quantitative","scale":{"domain":[0,101],"nice":false}},"y":{"field":"y","type":"quantitative","scale":{"domain":[0,0.886],"nice":false}},"detail":{"field":"id"},"order":{"field":"o"}}},
{"data":{"name":"heads"},"transform":[{"filter":"datum.id == 'Rib'"}],
"mark":{"type":"point","shape":"M0,-1L0.38,1L-0.38,1Z","filled":true,"color":"black","size":600,"angle":210.8,"opacity":1},
"encoding":{"x":{"field":"x","type":"quantitative","scale":{"domain":[0,101],"nice":false}},"y":{"field":"y","type":"quantitative","scale":{"domain":[0,0.886],"nice":false}}}},
{"data":{"name":"heads"},"transform":[{"filter":"datum.id == 'Lug'"}],
"mark":{"type":"point","shape":"M0,-1L0.38,1L-0.38,1Z","filled":true,"color":"black","size":600,"angle":33.3,"opacity":1},
"encoding":{"x":{"field":"x","type":"quantitative","scale":{"domain":[0,101],"nice":false}},"y":{"field":"y","type":"quantitative","scale":{"domain":[0,0.886],"nice":false}}}},
{"data":{"name":"tires"},
"mark":{"type":"point","stroke":"black","strokeWidth":1.8,"size":70,"opacity":1},
"encoding":{"x":{"field":"slip","type":"quantitative","scale":{"domain":[0,101],"nice":false}},"y":{"field":"ratio","type":"quantitative","scale":{"domain":[0,0.886],"nice":false}},
"shape":{"field":"tire","type":"nominal","scale":{"domain":["Goodyear Super Hi Miler","Firestone Transport 1","General GTX","Firestone Transport 200","Uniroyal Fleet Master Super Lug","Goodyear Custom Cross Rib"],"range":["triangle-up","square","circle","triangle-up","square","circle"]},"legend":null},
"fill":{"field":"tire","type":"nominal","scale":{"domain":["Goodyear Super Hi Miler","Firestone Transport 1","General GTX","Firestone Transport 200","Uniroyal Fleet Master Super Lug","Goodyear Custom Cross Rib"],"range":["white","white","white","black","black","black"]},"legend":null}}},
{"data":{"name":"tires"},
"mark":{"type":"point","stroke":"black","strokeWidth":1.8,"size":80,"opacity":1},
"encoding":{"x":{"datum":68.6,"type":"quantitative","scale":{"domain":[0,101],"nice":false}},"y":{"field":"key","type":"quantitative","scale":{"domain":[0,0.886],"nice":false}},
"shape":{"field":"tire","type":"nominal","scale":{"domain":["Goodyear Super Hi Miler","Firestone Transport 1","General GTX","Firestone Transport 200","Uniroyal Fleet Master Super Lug","Goodyear Custom Cross Rib"],"range":["triangle-up","square","circle","triangle-up","square","circle"]},"legend":null},
"fill":{"field":"tire","type":"nominal","scale":{"domain":["Goodyear Super Hi Miler","Firestone Transport 1","General GTX","Firestone Transport 200","Uniroyal Fleet Master Super Lug","Goodyear Custom Cross Rib"],"range":["white","white","white","black","black","black"]},"legend":null}}},
{"data":{"name":"notes"},
"mark":{"type":"text","align":"left","baseline":"middle","font":"Liberation Mono","fontSize":30,"color":"black"},
"encoding":{"x":{"field":"x","type":"quantitative","scale":{"domain":[0,101],"nice":false}},"y":{"field":"y","type":"quantitative","scale":{"domain":[0,0.886],"nice":false}},"text":{"field":"text"}}},
{"data":{"name":"ytitleMain"},
"mark":{"type":"text","align":"center","baseline":"middle","font":"Liberation Mono","fontSize":34,"angle":270,"color":"black"},
"encoding":{"x":{"field":"x","type":"quantitative","scale":{"domain":[0,101],"nice":false}},"y":{"field":"y","type":"quantitative","scale":{"domain":[0,0.886],"nice":false}},"text":{"field":"t"}}},
{"data":{"name":"ytitleSub"},
"mark":{"type":"text","align":"center","baseline":"middle","font":"Liberation Mono","fontSize":26,"angle":270,"color":"black"},
"encoding":{"x":{"field":"x","type":"quantitative","scale":{"domain":[0,101],"nice":false}},"y":{"field":"y","type":"quantitative","scale":{"domain":[0,0.886],"nice":false}},"text":{"field":"t"}}}
]
}
